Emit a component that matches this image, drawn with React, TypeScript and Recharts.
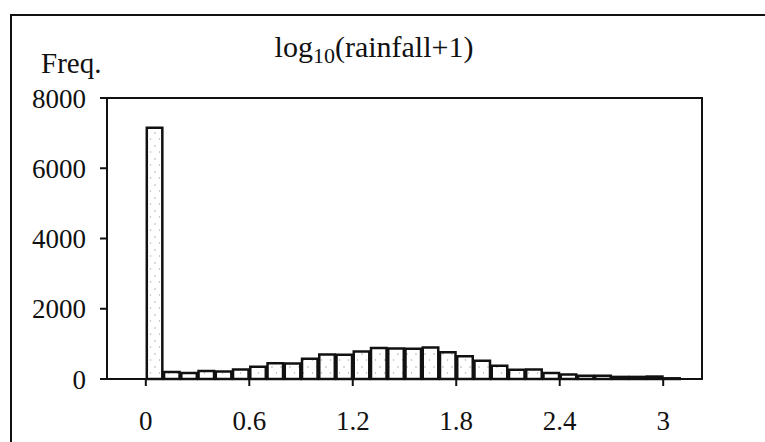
import { BarChart, Bar, XAxis, YAxis, ReferenceArea } from "recharts";

// histogram bins of log10(rainfall+1), width 0.1
const binStart = [0, 0.1, 0.2, 0.3, 0.4, 0.5, 0.6, 0.7, 0.8, 0.9, 1.0, 1.1, 1.2, 1.3, 1.4, 1.5, 1.6, 1.7, 1.8, 1.9, 2.0, 2.1, 2.2, 2.3, 2.4, 2.5, 2.6, 2.7, 2.8, 2.9, 3.0];
const freq = [7150, 200, 170, 230, 210, 270, 350, 450, 440, 580, 700, 690, 780, 880, 870, 860, 900, 760, 650, 520, 380, 260, 270, 170, 130, 90, 90, 60, 60, 70, 20];
const xTicks = [0, 0.6, 1.2, 1.8, 2.4, 3];
const yTicks = [0, 2000, 4000, 6000, 8000];

const BIN = 0.1;
const X_MIN = -0.225;
const X_MAX = 3.225;

const W = 765;
const H = 442;
const M = { top: 98, right: 63, left: 0, bottom: 0 };
const Y_W = 107;
const X_H = 63;
const PLOT_W = W - M.left - M.right - Y_W;

const data = binStart.map((b, i) => ({ x: b + BIN / 2, freq: freq[i] }));

const font = "'Liberation Serif', 'Times New Roman', serif";
const ink = "#111";

export default function App() {
  const barSize = (PLOT_W / (X_MAX - X_MIN)) * BIN;
  return (
    <div style={{ position: "fixed", left: 0, top: 0, width: W, height: H, overflow: "hidden", background: "#fff" }}>
      <div style={{ position: "absolute", left: 10, top: 14, width: 900, height: 600, border: `2px solid ${ink}` }} />
      <svg width={W} height={H} style={{ position: "absolute", left: 0, top: 0 }}>
        <text x={374} y={57} textAnchor="middle" fontFamily={font} fontSize={30} fill={ink}>
          log<tspan fontSize={22} dy={6}>10</tspan><tspan dy={-6}>(rainfall+1)</tspan>
        </text>
        <text x={41} y={73} fontFamily={font} fontSize={29} fill={ink}>Freq.</text>
      </svg>
      <div style={{ position: "absolute", left: 0, top: 0 }}>
        <BarChart width={W} height={H} data={data} margin={M}>
          <defs>
            <pattern id="dots" width="9" height="13" patternUnits="userSpaceOnUse">
              <rect width="9" height="13" fill="#fff" />
              <circle cx="2" cy="3" r="0.7" fill="#999" />
              <circle cx="6.5" cy="9" r="0.7" fill="#aaa" />
            </pattern>
          </defs>
          <XAxis
            dataKey="x"
            type="number"
            domain={[X_MIN, X_MAX]}
            ticks={xTicks}
            allowDataOverflow
            height={X_H}
            tickSize={7}
            tickMargin={25}
            axisLine={{ stroke: ink, strokeWidth: 2 }}
            tickLine={{ stroke: ink, strokeWidth: 2 }}
            tick={{ fill: ink, fontSize: 27, fontFamily: font }}
          />
          <YAxis
            domain={[0, 8000]}
            ticks={yTicks}
            width={Y_W}
            tickSize={7}
            tickMargin={14}
            axisLine={{ stroke: ink, strokeWidth: 2 }}
            tickLine={{ stroke: ink, strokeWidth: 2 }}
            tick={{ fill: ink, fontSize: 27, fontFamily: font }}
          />
          <ReferenceArea x1={X_MIN} x2={X_MAX} y1={0} y2={8000} fill="none" stroke={ink} strokeWidth={2} ifOverflow="visible" />
          <Bar dataKey="freq" barSize={barSize} fill="url(#dots)" stroke={ink} strokeWidth={2.5} isAnimationActive={false} />
        </BarChart>
      </div>
    </div>
  );
}
